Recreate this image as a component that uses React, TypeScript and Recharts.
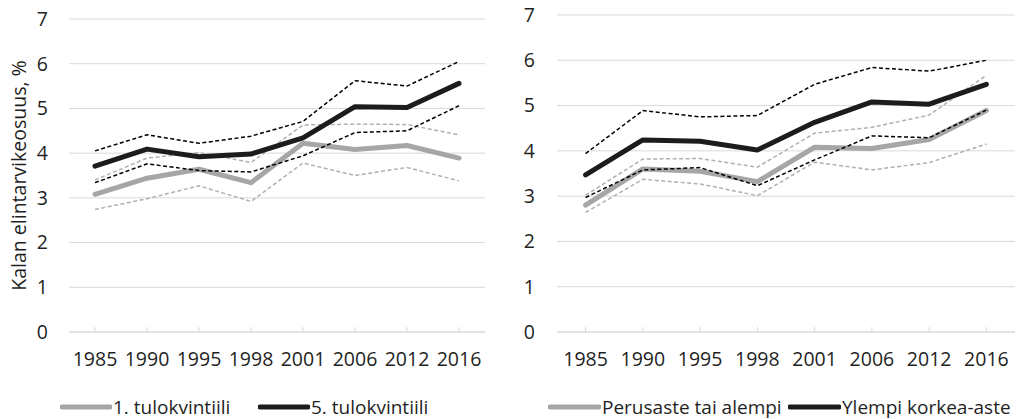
import React from 'react';
import { LineChart, Line, XAxis, YAxis, CartesianGrid } from 'recharts';

const years = ['1985', '1990', '1995', '1998', '2001', '2006', '2012', '2016'];
const yTicks = [0, 1, 2, 3, 4, 5, 6, 7];

// Left panel: income quintiles
const q1 = [3.08, 3.44, 3.64, 3.34, 4.22, 4.08, 4.17, 3.89];
const q1Hi = [3.4, 3.89, 4.01, 3.79, 4.63, 4.65, 4.64, 4.41];
const q1Lo = [2.74, 2.98, 3.27, 2.92, 3.78, 3.5, 3.68, 3.38];
const q5 = [3.71, 4.09, 3.92, 3.98, 4.34, 5.04, 5.02, 5.56];
const q5Hi = [4.05, 4.41, 4.22, 4.38, 4.71, 5.62, 5.5, 6.05];
const q5Lo = [3.34, 3.76, 3.61, 3.58, 3.94, 4.46, 4.5, 5.06];

// Right panel: education
const basic = [2.8, 3.6, 3.55, 3.32, 4.08, 4.05, 4.25, 4.89];
const basicHi = [3.02, 3.82, 3.83, 3.64, 4.39, 4.52, 4.79, 5.67];
const basicLo = [2.64, 3.37, 3.27, 3.01, 3.75, 3.58, 3.74, 4.15];
const higher = [3.47, 4.24, 4.21, 4.02, 4.63, 5.08, 5.03, 5.47];
const higherHi = [3.94, 4.89, 4.75, 4.78, 5.47, 5.84, 5.76, 6.0];
const higherLo = [2.97, 3.58, 3.63, 3.23, 3.8, 4.33, 4.29, 4.9];

const leftNames = ['1. tulokvintiili', '5. tulokvintiili'];
const rightNames = ['Perusaste tai alempi', 'Ylempi korkea-aste'];

const GRAY = '#a6a6a6';
const GRAY_DASH = '#b0b0b0';
const BLACK = '#1c1c1c';
const GRID = '#d9d9d9';
const TEXT = '#1f1f1f';
const FONT = '"Open Sans", sans-serif';
const FS = 19.5;

const build = (lo1: number[], m1: number[], hi1: number[], lo2: number[], m2: number[], hi2: number[]) =>
  years.map((y, i) => ({ year: y, lo1: lo1[i], m1: m1[i], hi1: hi1[i], lo2: lo2[i], m2: m2[i], hi2: hi2[i] }));

const leftData = build(q1Lo, q1, q1Hi, q5Lo, q5, q5Hi);
const rightData = build(basicLo, basic, basicHi, higherLo, higher, higherHi);

type PanelProps = {
  data: any[];
  width: number;
  top: number;
  yAxisWidth: number;
  right: number;
  pad: number;
  tickMargin: number;
  yLabel?: string;
};

const Panel = ({ data, width, top, yAxisWidth, right, pad, tickMargin, yLabel }: PanelProps) => (
  <LineChart width={width} height={419} data={data} margin={{ top, right, left: 0, bottom: 57 }}>
    <CartesianGrid vertical={false} stroke={GRID} strokeWidth={1} />
    <XAxis
      dataKey="year"
      height={30}
      padding={{ left: pad, right: pad }}
      axisLine={{ stroke: GRID, strokeWidth: 1 }}
      tickLine={{ stroke: GRID }}
      tickSize={-5}
      tickMargin={25}
      interval={0}
      tick={{ fill: TEXT, fontSize: FS, fontFamily: FONT }}
    />
    <YAxis
      width={yAxisWidth}
      domain={[0, 7]}
      ticks={yTicks}
      interval={0}
      axisLine={false}
      tickLine={false}
      tickSize={0}
      tickMargin={tickMargin}
      tick={{ fill: TEXT, fontSize: FS, fontFamily: FONT }}
      label={
        yLabel
          ? { value: yLabel, angle: -90, position: 'center', dx: -15, fill: TEXT, fontSize: FS, fontFamily: FONT }
          : undefined
      }
    />
    <Line dataKey="hi1" stroke={GRAY_DASH} strokeWidth={1.5} strokeDasharray="4 2.5" dot={false} isAnimationActive={false} legendType="none" />
    <Line dataKey="lo1" stroke={GRAY_DASH} strokeWidth={1.5} strokeDasharray="4 2.5" dot={false} isAnimationActive={false} legendType="none" />
    <Line dataKey="m1" stroke={GRAY} strokeWidth={5} strokeLinejoin="round" strokeLinecap="round" dot={false} isAnimationActive={false} />
    <Line dataKey="hi2" stroke="#000" strokeWidth={1.5} strokeDasharray="4 2.5" dot={false} isAnimationActive={false} legendType="none" />
    <Line dataKey="lo2" stroke="#000" strokeWidth={1.5} strokeDasharray="4 2.5" dot={false} isAnimationActive={false} legendType="none" />
    <Line dataKey="m2" stroke={BLACK} strokeWidth={5} strokeLinejoin="round" strokeLinecap="round" dot={false} isAnimationActive={false} />
  </LineChart>
);

const LegendItem = ({ x, color, label, lineLen }: { x: number; color: string; label: string; lineLen: number }) => (
  <div style={{ position: 'absolute', left: x, top: 394, height: 26, display: 'flex', alignItems: 'center' }}>
    <svg width={lineLen + 4} height={10} style={{ display: 'block' }}>
      <line x1={2} y1={5} x2={lineLen + 2} y2={5} stroke={color} strokeWidth={5} strokeLinecap="round" />
    </svg>
    <span style={{ fontFamily: FONT, fontSize: 19, color: TEXT, marginLeft: 1, lineHeight: '26px', whiteSpace: 'nowrap' }}>{label}</span>
  </div>
);

export default function App() {
  return (
    <div style={{ position: 'absolute', left: 0, top: 0, width: 1017, height: 419, background: '#fff', fontFamily: FONT, overflow: 'hidden' }}>
      <div style={{ position: 'absolute', left: 0, top: 0 }}>
        <Panel data={leftData} width={510} top={19} yAxisWidth={69} right={25} pad={26} tickMargin={21} yLabel="Kalan elintarvikeosuus, %" />
      </div>
      <div style={{ position: 'absolute', left: 510, top: 0 }}>
        <Panel data={rightData} width={507} top={15} yAxisWidth={47} right={2} pad={28.6} tickMargin={22} />
      </div>
      <LegendItem x={60} color={GRAY} label={leftNames[0]} lineLen={48} />
      <LegendItem x={258} color={BLACK} label={leftNames[1]} lineLen={48} />
      <LegendItem x={548} color={GRAY} label={rightNames[0]} lineLen={49} />
      <LegendItem x={788} color={BLACK} label={rightNames[1]} lineLen={49} />
    </div>
  );
}
